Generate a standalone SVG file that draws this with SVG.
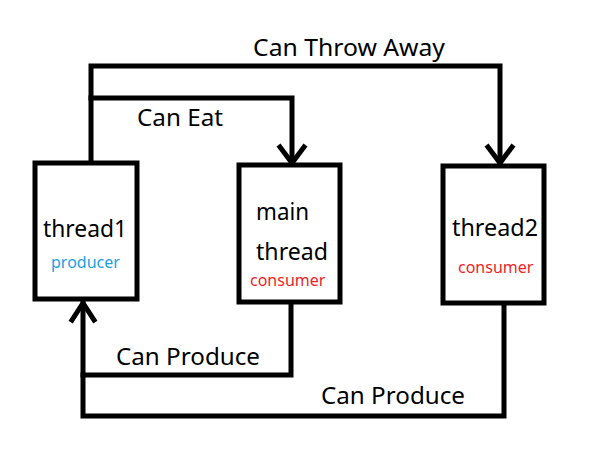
<svg xmlns="http://www.w3.org/2000/svg" width="610" height="471" viewBox="0 0 610 471">
<style>
.box{fill:#fff;stroke:#000;stroke-width:5}
.ln{fill:none;stroke:#000;stroke-width:5;stroke-linejoin:miter;stroke-linecap:square}
.t{font-family:"Noto Sans","Open Sans",sans-serif;font-size:24px;fill:#000}
.s{font-family:"Noto Sans","Open Sans",sans-serif;font-size:16px}
</style>
<rect width="610" height="471" fill="#fff"/>
<g id="connectors">
<path class="ln" d="M91,161 V66 H500 V163"/>
<path class="ln" d="M488,147 L500,163 L512,147"/>
<path class="ln" d="M91,98 H292 V163"/>
<path class="ln" d="M280,147 L292,163 L304,147"/>
<path class="ln" d="M291,304 V375 H83"/>
<path class="ln" d="M504,305 V416 H83 V303"/>
<path class="ln" d="M72,320 L83,303 L94,320"/>
<text class="t" x="253" y="56" textLength="192" lengthAdjust="spacingAndGlyphs">Can Throw Away</text>
<text class="t" x="137" y="126" textLength="86" lengthAdjust="spacingAndGlyphs">Can Eat</text>
<text class="t" x="116" y="365" textLength="144" lengthAdjust="spacingAndGlyphs">Can Produce</text>
<text class="t" x="321" y="404" textLength="144" lengthAdjust="spacingAndGlyphs">Can Produce</text>
</g>
<g id="thread1">
<rect class="box" x="35" y="163" width="102" height="136"/>
<text class="t" x="43" y="237" textLength="84" lengthAdjust="spacingAndGlyphs">thread1</text>
<text class="s" x="51" y="268" fill="#1BA1E2">producer</text>
</g>
<g id="main-thread">
<rect class="box" x="239" y="165" width="101" height="137"/>
<text class="t" x="256" y="220" textLength="53" lengthAdjust="spacingAndGlyphs">main</text>
<text class="t" x="256" y="260" textLength="72" lengthAdjust="spacingAndGlyphs">thread</text>
<text class="s" x="250" y="286" fill="#F01E28">consumer</text>
</g>
<g id="thread2">
<rect class="box" x="443" y="166" width="101" height="137"/>
<text class="t" x="452" y="236" textLength="86" lengthAdjust="spacingAndGlyphs">thread2</text>
<text class="s" x="458" y="273" fill="#F01E28">consumer</text>
</g>
</svg>
